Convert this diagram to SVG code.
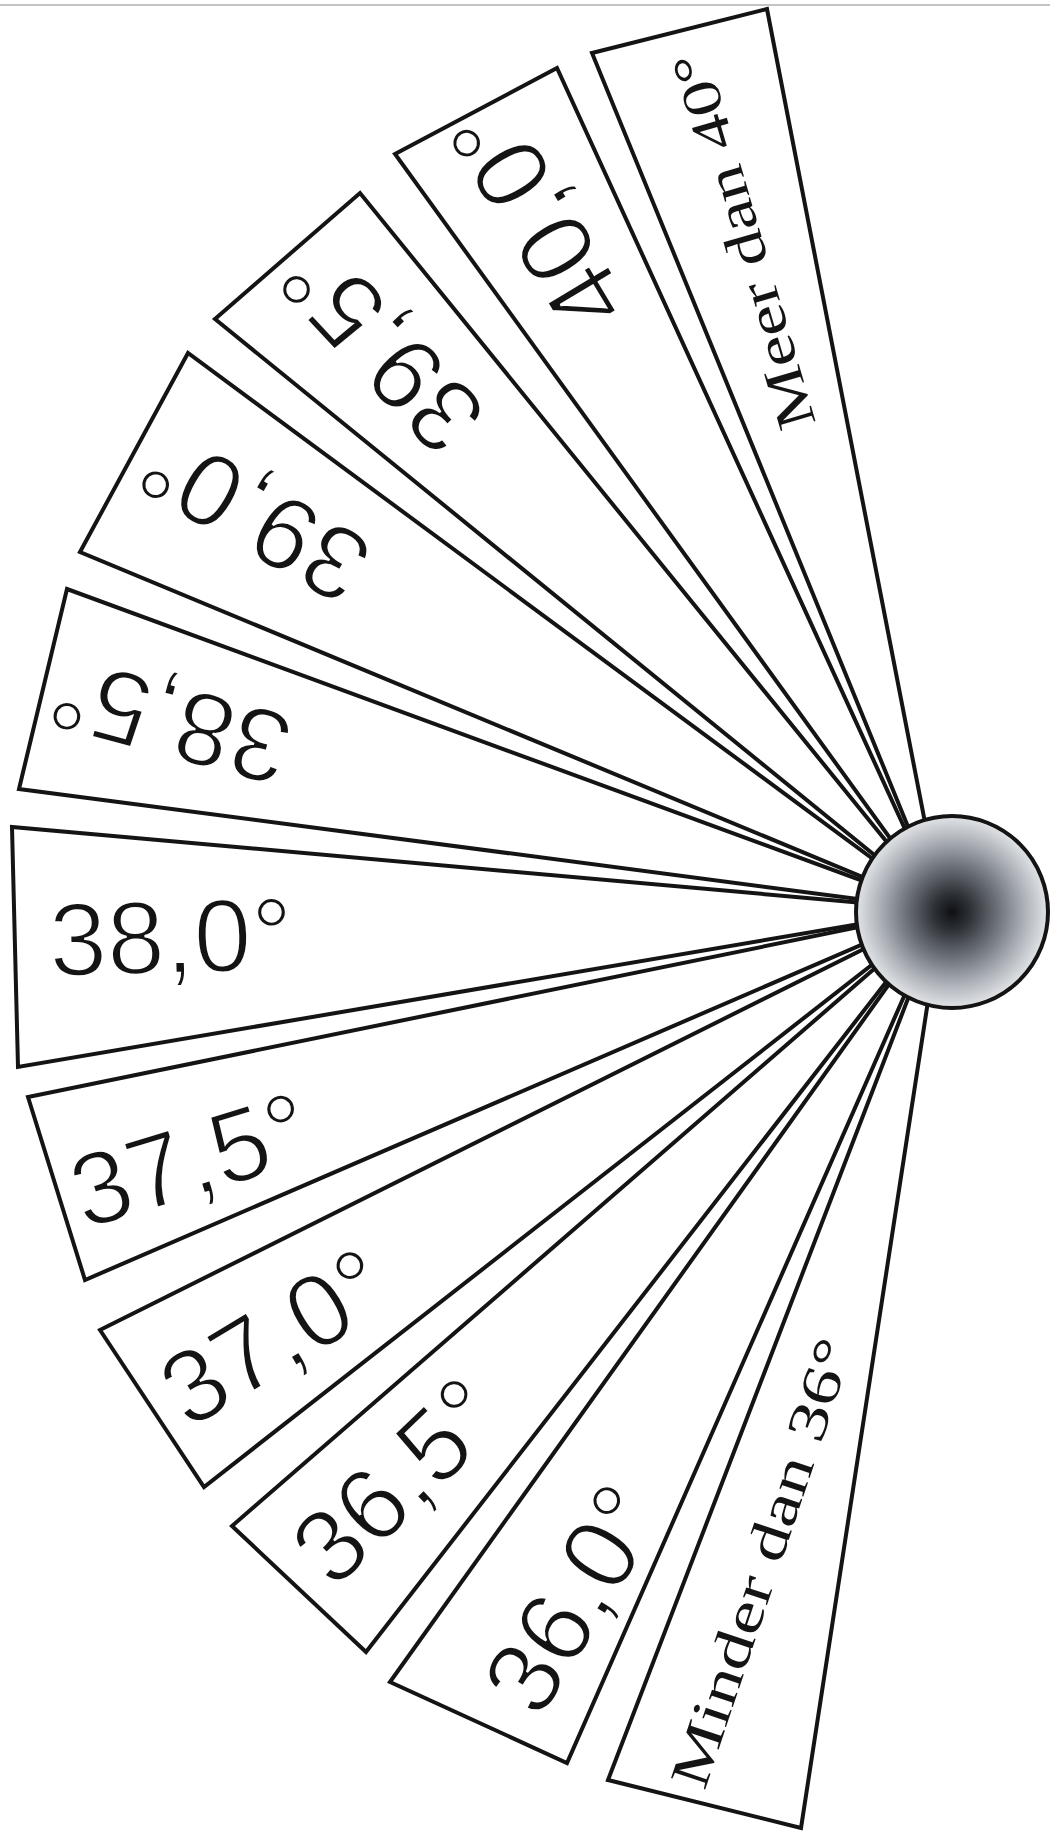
<svg xmlns="http://www.w3.org/2000/svg" width="1050" height="1839" viewBox="0 0 1050 1839">
  <defs>
    <radialGradient id="ball" cx="952" cy="912" r="97" gradientUnits="userSpaceOnUse">
      <stop offset="0" stop-color="#0e1013"/>
      <stop offset="0.18" stop-color="#2c2f34"/>
      <stop offset="0.5" stop-color="#737880"/>
      <stop offset="0.8" stop-color="#b9bdc3"/>
      <stop offset="1" stop-color="#e4e6e9"/>
    </radialGradient>
  </defs>
  <style>
    .wedge { fill: #ffffff; stroke: #141414; stroke-width: 4; stroke-linejoin: miter; }
    .num { font-family: "Liberation Sans", Arial, sans-serif; font-size: 104px; fill: #141414; stroke: #ffffff; stroke-width: 2.4px; text-anchor: middle; }
    .ser { font-family: "Liberation Serif", "Times New Roman", serif; font-size: 55px; fill: #141414; text-anchor: middle; }
  </style>
  <rect x="0" y="0" width="1050" height="1839" fill="#ffffff"/>
  <line x1="0" y1="5" x2="1050" y2="5" stroke="#c4c4c4" stroke-width="2"/>

  <g id="w1">
    <polygon class="wedge" points="592,53 767,9 942,910"/>
    <text class="ser" transform="translate(744,241) rotate(-106.3)" x="0" y="18" textLength="390" lengthAdjust="spacingAndGlyphs">Meer dan 40°</text>
  </g>
  <g id="w2">
    <polygon class="wedge" points="395,154 557,68 942,910"/>
    <text class="num" transform="translate(537,219) rotate(-121)" x="0" y="37">40,0°</text>
  </g>
  <g id="w3">
    <polygon class="wedge" points="215,319 360,193 942,910"/>
    <text class="num" transform="translate(381,349) rotate(-133)" x="0" y="37">39,5°</text>
  </g>
  <g id="w4">
    <polygon class="wedge" points="80,552 188,353 942,910"/>
    <text class="num" transform="translate(254,517) rotate(-150)" x="0" y="37">39,0°</text>
  </g>
  <g id="w5">
    <polygon class="wedge" points="19,789 67,589 942,910"/>
    <text class="num" transform="translate(170,722) rotate(-165)" x="0" y="37">38,5°</text>
  </g>
  <g id="w6">
    <polygon class="wedge" points="12,827 18,1067 942,910"/>
    <text class="num" transform="translate(171,936) rotate(-1.5)" x="0" y="37">38,0°</text>
  </g>
  <g id="w7">
    <polygon class="wedge" points="28,1097 85,1280 942,910"/>
    <text class="num" transform="translate(190,1159) rotate(-17)" x="0" y="37">37,5°</text>
  </g>
  <g id="w8">
    <polygon class="wedge" points="100,1330 204,1487 942,910"/>
    <text class="num" transform="translate(274,1336) rotate(-31)" x="0" y="37">37,0°</text>
  </g>
  <g id="w9">
    <polygon class="wedge" points="232,1526 366,1652 942,910"/>
    <text class="num" transform="translate(396,1480) rotate(-44)" x="0" y="37">36,5°</text>
  </g>
  <g id="w10">
    <polygon class="wedge" points="390,1682 567,1763 942,910"/>
    <text class="num" transform="translate(572,1598) rotate(-58.5)" x="0" y="37">36,0°</text>
  </g>
  <g id="w11">
    <polygon class="wedge" points="608,1780 801,1828 942,910"/>
    <text class="ser" transform="translate(762,1563) rotate(-71.5)" x="0" y="18" textLength="470" lengthAdjust="spacingAndGlyphs">Minder dan 36°</text>
  </g>

  <g id="ball-node">
    <circle cx="952" cy="912" r="96" fill="url(#ball)" stroke="#141414" stroke-width="4"/>
  </g>
</svg>
